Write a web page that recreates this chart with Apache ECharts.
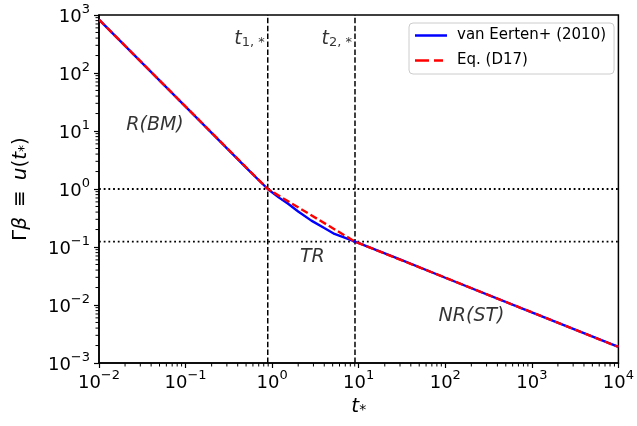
<!DOCTYPE html>
<html>
<head>
<meta charset="utf-8">
<script src="https://cdn.jsdelivr.net/npm/echarts@6/dist/echarts.min.js"></script>
<style>
  html, body { margin: 0; padding: 0; background: #fff; }
  #main { width: 637px; height: 426px; }
</style>
</head>
<body>
<div id="main"></div>
<script>
// van Eerten+ (2010) curve
var tBlue = [0.01, 0.1, 0.5, 0.89, 1.2, 1.53, 2.0, 2.84, 4.0, 5.25, 7.0, 9.06, 30, 100, 1000, 10000];
var uBlue = [830, 26.3, 2.34, 1.0, 0.71, 0.555, 0.41, 0.285, 0.212, 0.168, 0.143, 0.124, 0.061, 0.0295, 0.00746, 0.00189];
// Eq. (D17) - broken power law
var tRed = [0.01, 0.89, 9.06, 10000];
var uRed = [830, 1.0, 0.124, 0.00189];
// characteristic times / velocities
var tStar = [0.89, 9.06];
var uStar = [1.0, 0.124];
var tStarLabels = ['1, *', '2, *'];
var tStarLabelU = 381;
// regime annotations
var annT = [0.0444, 2.91, 201];
var annU = [12.6, 0.067, 0.0065];
var annText = ['R(BM)', 'TR', 'NR(ST)'];
// ticks
var xTickExp = [-2, -1, 0, 1, 2, 3, 4];
var xTickLabels = ['−2', '−1', '0', '1', '2', '3', '4'];
var yTickExp = [-3, -2, -1, 0, 1, 2, 3];
var yTickLabels = ['−3', '−2', '−1', '0', '1', '2', '3'];

var FONT = 'DejaVu Sans';
var xMin = 0.01, xMax = 10000, yMin = 0.001, yMax = 1000;

// minor tick values 2..9 x 10^e
function minorTicks(lo, hi) {
  var out = [];
  for (var e = lo; e < hi; e++) {
    for (var k = 2; k <= 9; k++) out.push(k * Math.pow(10, e));
  }
  return out;
}

var tickRich = {
  b: { fontSize: 18, fontFamily: FONT, color: '#000', lineHeight: 23, verticalAlign: 'bottom' },
  s: { fontSize: 13, fontFamily: FONT, color: '#000', lineHeight: 13, verticalAlign: 'top' }
};
function tickFmt(exps, labels) {
  return function (v) {
    var e = Math.round(Math.log10(v));
    var i = exps.indexOf(e);
    return '{b|10}{s|' + (i >= 0 ? labels[i] : e) + '}';
  };
}

function mathRich(size) {
  return {
    i: { fontSize: size, fontFamily: FONT, fontStyle: 'italic', color: '#000' },
    n: { fontSize: size, fontFamily: FONT, color: '#000' },
    sub: { fontSize: Math.round(size * 0.7), fontFamily: FONT, color: '#000', verticalAlign: 'bottom', lineHeight: Math.round(size * 0.7) }
  };
}

var chart = echarts.init(document.getElementById('main'));

var vLines = tStar.map(function (t) {
  return {
    type: 'line', symbol: 'none', silent: true,
    data: [[t, yMin], [t, yMax]],
    lineStyle: { color: '#000', width: 1.5, type: [5.5, 2.4] }, z: 2
  };
});
var hLines = uStar.map(function (u) {
  return {
    type: 'line', symbol: 'none', silent: true,
    data: [[xMin, u], [xMax, u]],
    lineStyle: { color: '#000', width: 1.8, type: [1.8, 2.9] }, z: 2
  };
});

var option = {
  backgroundColor: '#fff',
  animation: false,
  grid: {
    left: 99, right: 17, top: 15, bottom: 63,
    show: true, borderColor: '#000', borderWidth: 1.5, backgroundColor: 'transparent'
  },
  legend: {
    data: [
      { name: 'van Eerten+ (2010)', icon: 'path://M0,0h0.01v0.01h-0.01z M0,4.8H32V7.2H0z M32,12h-0.01v-0.01h0.01z' },
      { name: 'Eq. (D17)', icon: 'path://M0,0h0.01v0.01h-0.01z M0,4.8H14V7.2H0z M19,4.8H28V7.2H19z M32,12h-0.01v-0.01h0.01z' }
    ],
    orient: 'vertical', left: 409, top: 23,
    itemWidth: 32, itemHeight: 12, itemGap: 10,
    backgroundColor: 'rgba(255,255,255,0.8)',
    borderColor: '#cccccc', borderWidth: 1, borderRadius: 4,
    padding: [5, 8, 6, 6],
    textStyle: { fontSize: 15, fontFamily: FONT, color: '#000', padding: [0, 0, 0, 5] }
  },
  xAxis: {
    type: 'log', logBase: 10, min: xMin, max: xMax,
    name: '{i|t}{sub|*}', nameLocation: 'middle', nameGap: 34,
    nameTextStyle: { rich: mathRich(20) },
    axisLine: { show: true, onZero: false, lineStyle: { color: '#000', width: 1.5 } },
    axisTick: { show: true, inside: false, length: 5, lineStyle: { color: '#000', width: 1.2 } },
    axisLabel: { margin: 6, formatter: tickFmt(xTickExp, xTickLabels), rich: tickRich },
    splitLine: { show: false }, minorTick: { show: false }
  },
  yAxis: {
    type: 'log', logBase: 10, min: yMin, max: yMax,
    name: '{n|Γ}{i|β}{n|\u2002≡\u2002}{i|u}{n|(}{i|t}{sub|*}{n|)}', nameLocation: 'middle', nameGap: 68,
    nameTextStyle: { rich: mathRich(20) },
    axisLine: { show: true, onZero: false, lineStyle: { color: '#000', width: 1.5 } },
    axisTick: { show: true, inside: false, length: 5, lineStyle: { color: '#000', width: 1.2 } },
    axisLabel: { margin: 9, formatter: tickFmt(yTickExp, yTickLabels), rich: tickRich },
    splitLine: { show: false }, minorTick: { show: false }
  },
  series: vLines.concat(hLines).concat([
    {
      name: 'van Eerten+ (2010)', type: 'line',
      symbol: 'none',
      data: tBlue.map(function (t, i) { return [t, uBlue[i]]; }),
      lineStyle: { color: '#0000ff', width: 2.4 }, itemStyle: { color: '#0000ff' }, z: 3
    },
    {
      name: 'Eq. (D17)', type: 'line',
      symbol: 'none',
      data: tRed.map(function (t, i) { return [t, uRed[i]]; }),
      lineStyle: { color: '#ff0000', width: 2.4, type: [7.5, 3.2] }, itemStyle: { color: '#ff0000' }, z: 4
    },
    {
      type: 'scatter', symbolSize: 0, silent: true,
      data: annT.map(function (t, i) { return { value: [t, annU[i]], name: annText[i] }; }),
      label: {
        show: true, position: 'inside',
        formatter: function (p) { return p.name; },
        fontSize: 19, fontFamily: FONT, fontStyle: 'italic', color: '#000'
      }, z: 5
    },
    {
      type: 'scatter', symbolSize: 0, silent: true,
      data: tStar.map(function (t, i) { return { value: [t, tStarLabelU], name: tStarLabels[i] }; }),
      label: {
        show: true, position: 'left', distance: 3,
        formatter: function (p) { return '{i|t}{sub|' + p.name + '}'; },
        rich: mathRich(19)
      }, z: 5
    }
  ])
};

chart.setOption(option);

// minor ticks (2..9 x 10^n) on the log axes, positioned by the axes' own scales
var g = [];
minorTicks(-2, 4).forEach(function (v) {
  var p = chart.convertToPixel({ gridIndex: 0 }, [v, yMin]);
  g.push({ type: 'line', silent: true, z: 10, shape: { x1: p[0], y1: p[1], x2: p[0], y2: p[1] + 3.5 }, style: { stroke: '#000', lineWidth: 1 } });
});
minorTicks(-3, 3).forEach(function (v) {
  var p = chart.convertToPixel({ gridIndex: 0 }, [xMin, v]);
  g.push({ type: 'line', silent: true, z: 10, shape: { x1: p[0] - 3.5, y1: p[1], x2: p[0], y2: p[1] }, style: { stroke: '#000', lineWidth: 1 } });
});
chart.setOption({ graphic: g });
</script>
</body>
</html>
